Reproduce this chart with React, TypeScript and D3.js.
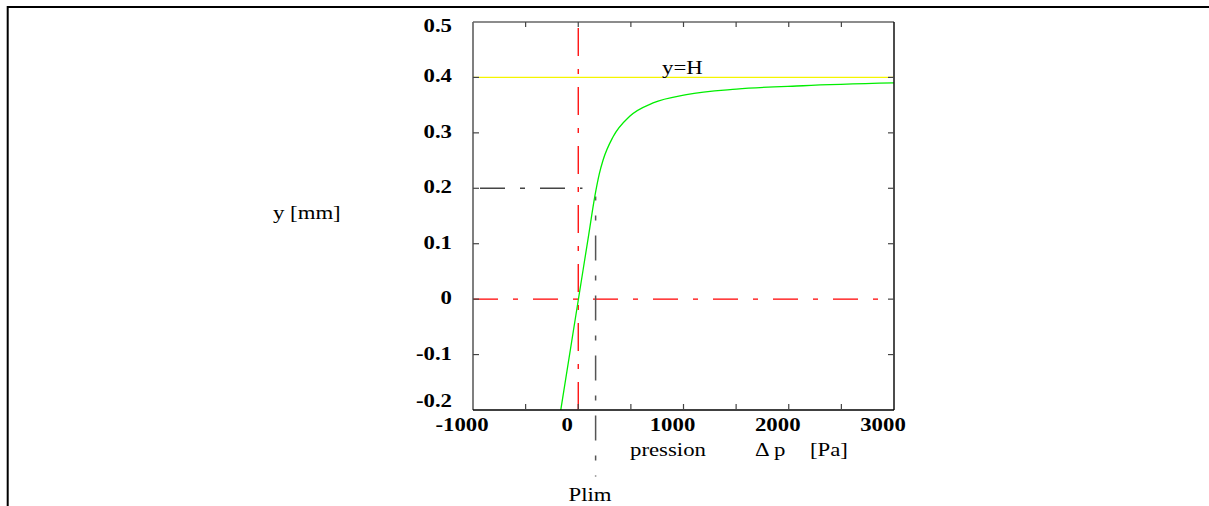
import React from "react";
import * as d3 from "d3";

// ---- data ----
const pressure = [-166, 0, 100, 157, 200, 236, 331, 489, 711, 1028, 1503, 2136, 3000];
const yValues = [-0.2, -0.002, 0.117, 0.185, 0.226, 0.251, 0.293, 0.33, 0.354, 0.369, 0.379, 0.385, 0.39];

const H = 0.4;
const PLIM = 165;
const Y_GUIDE = 0.2;
const GUIDE_X_END = 40;
const PLIM_Y_RANGE = [0.185, -0.32];
const RED_X = 0;

const xTickValues = [-1000, 0, 1000, 2000, 3000];
const xTickLabels = ["-1000", "0", "1000", "2000", "3000"];
const xTickMarks = [-500, 0, 500, 1000, 1500, 2000, 2500];
const yTickValues = [-0.2, -0.1, 0, 0.1, 0.2, 0.3, 0.4, 0.5];
const yTickLabels = ["-0.2", "-0.1", "0", "0.1", "0.2", "0.3", "0.4", "0.5"];

const X_DOMAIN = [-1000, 3000];
const Y_DOMAIN = [-0.2, 0.5];

const W = 1209;
const HT = 506;
const left = 473, right = 894, top = 22, bottom = 410;
const FONT = "'Liberation Serif', 'Times New Roman', serif";
const SX = 1.2;

function T({ x, y, anchor = "start", bold = false, children }: any) {
  return (
    <text
      transform={`translate(${x},${y}) scale(${SX},1)`}
      textAnchor={anchor}
      fontFamily={FONT}
      fontSize={19}
      fontWeight={bold ? "bold" : "normal"}
      fill="#000"
    >
      {children}
    </text>
  );
}

export default function App() {
  const x = d3.scaleLinear().domain(X_DOMAIN).range([left, right]);
  const y = d3.scaleLinear().domain(Y_DOMAIN).range([bottom, top]);
  const pts = pressure.map((p, i) => [p, yValues[i]] as [number, number]);
  const line = d3
    .line<[number, number]>()
    .x((d) => x(d[0]))
    .y((d) => y(d[1]))
    .curve(d3.curveMonotoneX);

  const dash = "25,15,5,15";

  return (
    <svg
      width={W}
      height={HT}
      style={{ position: "absolute", left: 0, top: 0, background: "#fff" }}
    >
      {/* page frame */}
      <path d={`M7.7,${HT} V7 H${W}`} fill="none" stroke="#000" strokeWidth={2} />

      <defs>
        <clipPath id="plotclip">
          <rect x={left} y={top} width={right - left} height={bottom - top} />
        </clipPath>
      </defs>

      {/* yellow y=H line */}
      <line x1={x(X_DOMAIN[0])} x2={x(X_DOMAIN[1])} y1={y(H)} y2={y(H)} stroke="#f5f500" strokeWidth={1.3} />

      {/* red dash-dot lines */}
      <line
        x1={x(X_DOMAIN[0])}
        x2={x(X_DOMAIN[1]) - 1}
        y1={y(0)}
        y2={y(0)}
        stroke="#ff0000"
        strokeWidth={1.3}
        strokeDasharray={dash}
      />
      <line
        x1={x(RED_X)}
        x2={x(RED_X)}
        y1={y(Y_DOMAIN[1]) + 6}
        y2={y(Y_DOMAIN[0])}
        stroke="#ff0000"
        strokeWidth={1.3}
        strokeDasharray="28,13,5,13"
      />

      {/* gray guides */}
      <line
        x1={x(X_DOMAIN[0])}
        x2={x(GUIDE_X_END)}
        y1={y(Y_GUIDE)}
        y2={y(Y_GUIDE)}
        stroke="#444"
        strokeWidth={1.4}
        strokeDasharray={dash}
        strokeDashoffset={53}
      />
      <line
        x1={x(PLIM)}
        x2={x(PLIM)}
        y1={y(PLIM_Y_RANGE[0])}
        y2={y(PLIM_Y_RANGE[1])}
        stroke="#555"
        strokeWidth={1.5}
        strokeDasharray={dash}
        strokeDashoffset={21}
      />

      {/* curve */}
      <path d={line(pts) || ""} fill="none" stroke="#00ee00" strokeWidth={1.3} clipPath="url(#plotclip)" />

      {/* axes box */}
      <line x1={left} x2={left} y1={top} y2={bottom} stroke="#555" strokeWidth={1.5} />
      <line x1={left} x2={right} y1={top} y2={top} stroke="#666" strokeWidth={1.5} />
      <line x1={right} x2={right} y1={top} y2={bottom} stroke="#111" strokeWidth={1.5} />
      <line x1={left} x2={right} y1={bottom} y2={bottom} stroke="#000" strokeWidth={1.5} />

      {/* ticks */}
      {xTickMarks.map((v) => (
        <g key={"xt" + v}>
          <line x1={x(v)} x2={x(v)} y1={top} y2={top + 5} stroke="#444" strokeWidth={1.2} />
          <line x1={x(v)} x2={x(v)} y1={bottom} y2={bottom - 6} stroke="#444" strokeWidth={1.2} />
        </g>
      ))}
      {yTickValues.slice(1, -1).map((v) => (
        <g key={"yt" + v}>
          <line x1={left} x2={left + 6} y1={y(v)} y2={y(v)} stroke="#444" strokeWidth={1.2} />
          <line x1={right} x2={right - 6} y1={y(v)} y2={y(v)} stroke="#444" strokeWidth={1.2} />
        </g>
      ))}

      {/* tick labels */}
      {yTickValues.map((v, i) => (
        <T key={"yl" + v} x={452} y={Math.min(Math.max(y(v) + 5, 32), 407)} anchor="end" bold>
          {yTickLabels[i]}
        </T>
      ))}
      {xTickValues.map((v, i) => (
        <T key={"xl" + v} x={x(v) - 11} y={431} anchor="middle" bold>
          {xTickLabels[i]}
        </T>
      ))}

      {/* labels */}
      <T x={273} y={219}>y [mm]</T>
      <T x={662} y={74}>y=H</T>
      <T x={630} y={456}>pression</T>
      <T x={755} y={456}>Δ p</T>
      <T x={810} y={456}>[Pa]</T>
      <T x={590} y={501} anchor="middle">Plim</T>
    </svg>
  );
}
